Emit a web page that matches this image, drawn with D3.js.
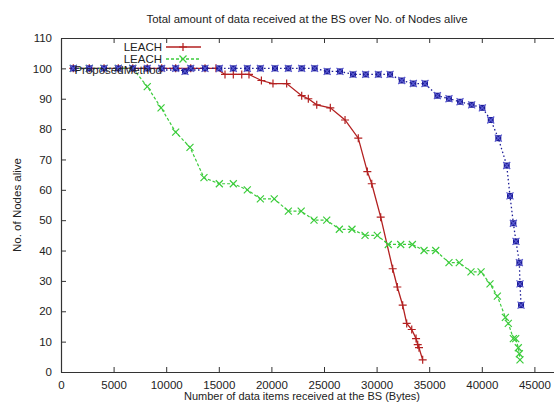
<!DOCTYPE html>
<html>
<head>
<meta charset="utf-8">
<script src="https://cdn.jsdelivr.net/npm/d3@7"></script>
<style>
  body { margin: 0; background: #fff; }
  svg { font-family: "Liberation Sans", Arial, sans-serif; }
</style>
</head>
<body>
<div id="chart"></div>
<script>
// data
var xTicks = [0, 5000, 10000, 15000, 20000, 25000, 30000, 35000, 40000, 45000];
var yTicks = [0, 10, 20, 30, 40, 50, 60, 70, 80, 90, 100, 110];

var leachRedX = [1170, 2690, 4090, 5450, 6820, 8200, 9570, 10900, 12330, 13690, 14730, 15590, 16380, 17180, 17870, 19050, 20150, 21450, 22880, 23510, 24310, 25600, 27000, 28260, 29120, 29540, 30390, 31530, 31970, 32480, 32860, 33340, 33750, 33910, 34030, 34380];
var leachRedY = [100, 100, 100, 100, 100, 100, 100, 100, 100, 100, 100, 98, 98, 98, 98, 96, 95, 95, 91, 90, 88, 87, 83, 77, 66, 62, 51, 34, 28, 22, 16, 14, 11, 9, 8, 4];

var leachGreenX = [1170, 2690, 4090, 5450, 6820, 8200, 9510, 10900, 12260, 13590, 15050, 16380, 17710, 18950, 20270, 21610, 22830, 24050, 25260, 26460, 27660, 28900, 30070, 31110, 32290, 33400, 34510, 35620, 36880, 37860, 38970, 39930, 40780, 41480, 42240, 42520, 43000, 43220, 43470, 43570, 43630];
var leachGreenY = [100, 100, 100, 100, 100, 94, 87, 79, 74, 64, 62, 62, 60, 57, 57, 53, 53, 50, 50, 47, 47, 45, 45, 42, 42, 42, 40, 40, 36, 36, 33, 33, 29, 25, 18, 16, 11, 11, 8, 6, 4];

var proposedX = [1170, 2690, 4090, 5450, 6820, 8200, 9570, 10900, 11790, 12330, 13690, 15050, 16380, 17710, 18950, 20340, 21610, 22880, 24110, 25300, 26520, 27760, 28960, 30170, 31280, 32390, 33490, 34600, 35780, 36880, 37930, 39040, 40050, 40850, 41570, 42370, 42680, 43000, 43250, 43570, 43630, 43730];
var proposedY = [100, 100, 100, 100, 100, 100, 100, 100, 99, 100, 100, 100, 100, 100, 100, 100, 100, 100, 100, 99, 99, 98, 98, 98, 98, 96, 95, 95, 91, 90, 89, 88, 87, 83, 77, 68, 58, 49, 43, 36, 29, 22];

var legendNames = ["LEACH", "LEACH", "ProposedMethod"];

var W = 554, H = 405;
var margin = {top: 38, left: 61};
var plotW = 526, plotH = 334;

var svg = d3.select("#chart").append("svg")
  .attr("width", W)
  .attr("height", H);

var x = d3.scaleLinear().domain([0, 50000]).range([margin.left, margin.left + plotW]);
var y = d3.scaleLinear().domain([0, 110]).range([margin.top + plotH, margin.top]);

var axisColor = "#333";

// axes, gnuplot style: ticks point inward on every side
var bottomAxis = svg.append("g")
  .attr("transform", "translate(0," + (margin.top + plotH) + ")")
  .call(d3.axisBottom(x).tickValues(xTicks).tickSizeInner(-5).tickSizeOuter(0).tickPadding(9).tickFormat(d3.format("d")));
var topAxis = svg.append("g")
  .attr("transform", "translate(0," + margin.top + ")")
  .call(d3.axisTop(x).tickValues(xTicks).tickSizeInner(-5).tickSizeOuter(0).tickFormat(""));
var leftAxis = svg.append("g")
  .attr("transform", "translate(" + margin.left + ",0)")
  .call(d3.axisLeft(y).tickValues(yTicks).tickSizeInner(-5).tickSizeOuter(0).tickPadding(9));
var rightAxis = svg.append("g")
  .attr("transform", "translate(" + (margin.left + plotW) + ",0)")
  .call(d3.axisRight(y).tickValues(yTicks).tickSizeInner(-5).tickSizeOuter(0).tickFormat(""));

[bottomAxis, topAxis, leftAxis, rightAxis].forEach(function (g) {
  g.selectAll("path").attr("stroke", axisColor).attr("stroke-width", 1.2);
  g.selectAll("line").attr("stroke", axisColor);
  g.selectAll("text").attr("fill", "#222").style("font-size", "11.5px").style("font-family", "Liberation Sans, Arial, sans-serif");
});

// titles
svg.append("text")
  .attr("x", 307).attr("y", 23)
  .attr("text-anchor", "middle")
  .style("font-size", "11.4px")
  .attr("fill", "#222")
  .text("Total amount of data received at the BS over No. of Nodes alive");

svg.append("text")
  .attr("x", 302).attr("y", 400)
  .attr("text-anchor", "middle")
  .style("font-size", "11px")
  .attr("fill", "#222")
  .text("Number of data items received at the BS (Bytes)");

svg.append("text")
  .attr("transform", "translate(21," + 205 + ") rotate(-90)")
  .attr("text-anchor", "middle")
  .style("font-size", "11.5px")
  .attr("fill", "#222")
  .text("No. of Nodes alive");

var line = d3.line()
  .x(function (d) { return x(d[0]); })
  .y(function (d) { return y(d[1]); });

var redCol = "#b32020", greenCol = "#3ccc3c", blueCol = "#1c1c96";

function plusMark(g, cx, cy, col) {
  g.append("path")
    .attr("d", "M" + (cx - 4) + "," + cy + "H" + (cx + 4) + "M" + cx + "," + (cy - 4) + "V" + (cy + 4))
    .attr("stroke", col).attr("stroke-width", 1.2).attr("fill", "none");
}
function crossMark(g, cx, cy, col) {
  g.append("path")
    .attr("d", "M" + (cx - 3.5) + "," + (cy - 3.5) + "L" + (cx + 3.5) + "," + (cy + 3.5) + "M" + (cx - 3.5) + "," + (cy + 3.5) + "L" + (cx + 3.5) + "," + (cy - 3.5))
    .attr("stroke", col).attr("stroke-width", 1.2).attr("fill", "none");
}
function squareMark(g, cx, cy, col) {
  g.append("rect")
    .attr("x", cx - 3).attr("y", cy - 3).attr("width", 6).attr("height", 6)
    .attr("fill", col);
  crossMark(g, cx, cy, "#5a5ad0");
}

var redData = d3.range(leachRedX.length).map(function (i) { return [leachRedX[i], leachRedY[i]]; });
var greenData = d3.range(leachGreenX.length).map(function (i) { return [leachGreenX[i], leachGreenY[i]]; });
var blueData = d3.range(proposedX.length).map(function (i) { return [proposedX[i], proposedY[i]]; });

var series = svg.append("g");

// LEACH (red, solid)
series.append("path").datum(redData)
  .attr("d", line).attr("fill", "none")
  .attr("stroke", redCol).attr("stroke-width", 1.3);
redData.forEach(function (d) { plusMark(series, x(d[0]), y(d[1]), redCol); });

// LEACH (green, dashed)
series.append("path").datum(greenData)
  .attr("d", line).attr("fill", "none")
  .attr("stroke", greenCol).attr("stroke-width", 1.2)
  .attr("stroke-dasharray", "3,2");
greenData.forEach(function (d) { crossMark(series, x(d[0]), y(d[1]), greenCol); });

// ProposedMethod (blue, dotted)
series.append("path").datum(blueData)
  .attr("d", line).attr("fill", "none")
  .attr("stroke", blueCol).attr("stroke-width", 1.3)
  .attr("stroke-dasharray", "1.5,2.5");
blueData.forEach(function (d) { squareMark(series, x(d[0]), y(d[1]), blueCol); });

// legend
var legend = svg.append("g");
var legendY = [47, 59, 70];
var legendCols = [redCol, greenCol, blueCol];
var legendDash = [null, "3,2", "1.5,2.5"];
legendNames.forEach(function (name, i) {
  legend.append("text")
    .attr("x", 162).attr("y", legendY[i] + 4)
    .attr("text-anchor", "end")
    .style("font-size", "11.5px")
    .attr("fill", "#222")
    .text(name);
  legend.append("line")
    .attr("x1", 166).attr("x2", 201)
    .attr("y1", legendY[i]).attr("y2", legendY[i])
    .attr("stroke", legendCols[i]).attr("stroke-width", 1.3)
    .attr("stroke-dasharray", legendDash[i]);
});
plusMark(legend, 183, legendY[0], redCol);
crossMark(legend, 183, legendY[1], greenCol);
</script>
</body>
</html>
